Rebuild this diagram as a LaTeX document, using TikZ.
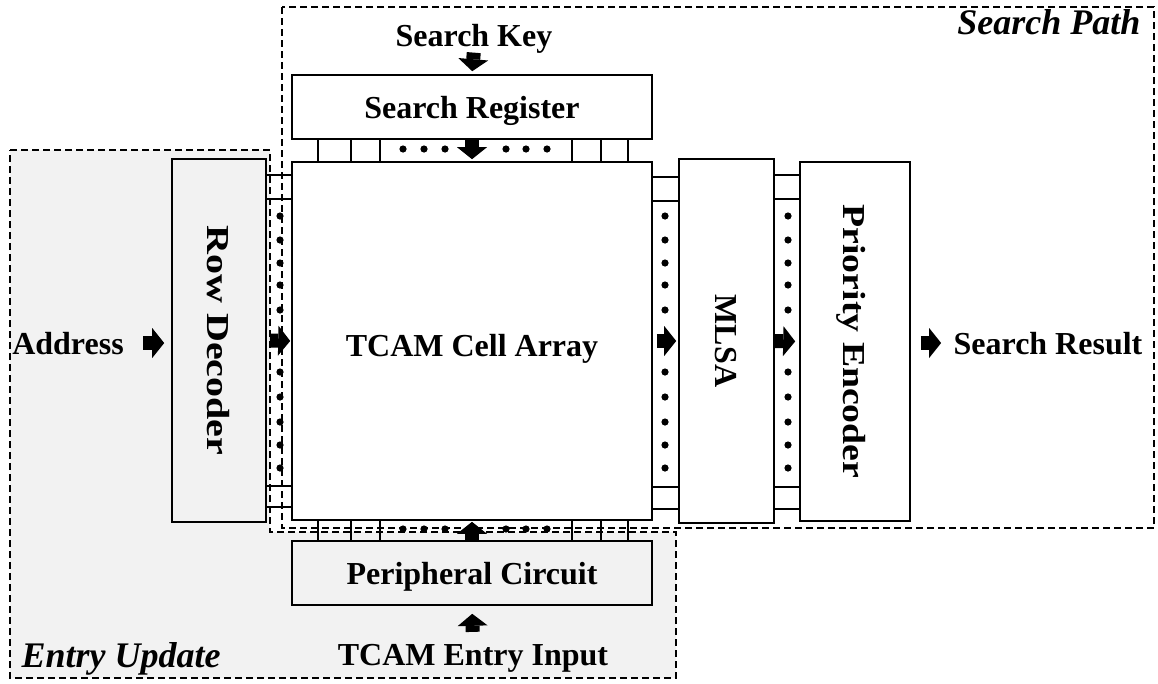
\documentclass[tikz,border=0pt]{standalone}
\usepackage{fontspec}
\setmainfont{Liberation Serif}
\usetikzlibrary{arrows.meta}
\definecolor{fillgray}{HTML}{F2F2F2}
\tikzset{
  blk/.style={draw, line width=1.6pt, fill=white, inner sep=0pt},
  grayblk/.style={blk, fill=fillgray},
  txt/.style={font=\fontsize{32}{38}\selectfont\bfseries, text depth=0pt},
  itxt/.style={font=\fontsize{36}{42}\selectfont\bfseries\itshape, text depth=0pt},
  region/.style={line width=1.3pt, dash pattern=on 7pt off 4pt},
  busline/.style={line width=1.3pt},
  fatarrow/.style={line width=14pt, -{Triangle[length=12pt,width=30pt,line width=0pt 0]}},
}
\begin{document}
\begin{tikzpicture}[x=1pt,y=-1pt]
\useasboundingbox (0,0) rectangle (1158,683);
% regions
\draw[region, fill=fillgray] (10,150) -- (270,150) -- (270,532) -- (676,532)
      -- (676,678) -- (10,678) -- cycle;
\draw[region] (282,7) rectangle (1154,528);
\node[itxt, anchor=west] (upd) at (18,655) {Entry Update};
\node[itxt, anchor=east] (path) at (1144,22) {Search Path};
% blocks
\node[grayblk, minimum width=94pt, minimum height=363pt] (dec) at (219,340.5) {};
\node[txt, rotate=-90, xscale=1.25] (dectxt) at (dec) {Row Decoder};
\node[blk, minimum width=360pt, minimum height=358pt] (cell) at (472,341) {};
\node[txt] (celltxt) at (472,345) {TCAM Cell Array};
\node[blk, txt, minimum width=360pt, minimum height=64pt] (reg) at (472,107) {Search Register};
\node[grayblk, txt, minimum width=360pt, minimum height=64pt] (per) at (472,573) {Peripheral Circuit};
\node[blk, minimum width=95pt, minimum height=364pt] (mlsa) at (726.5,341) {};
\node[txt, rotate=-90] (mlsatxt) at (mlsa) {MLSA};
\node[blk, minimum width=110pt, minimum height=359pt] (pe) at (855,341.5) {};
\node[txt, rotate=-90, xscale=1.18] (petxt) at (pe) {Priority Encoder};
% outer texts
\node[txt] (key) at (474,35) {Search Key};
\node[txt] (addr) at (68,343) {Address};
\node[txt] (res) at (1048,343) {Search Result};
\node[txt] (inp) at (473,655) {TCAM Entry Input};
% buses
\foreach \x in {318,351,380,572,601,628} {
  \draw[busline] (\x,0 |- reg.south) -- (\x,0 |- cell.north);
  \draw[busline] (\x,0 |- cell.south) -- (\x,0 |- per.north);
}
\foreach \y in {175,199,486,507}
  \draw[busline] (dec.east |- 0,\y) -- (cell.west |- 0,\y);
\foreach \y in {177,201,487,509}
  \draw[busline] (cell.east |- 0,\y) -- (mlsa.west |- 0,\y);
\foreach \y in {175,199,487,509}
  \draw[busline] (mlsa.east |- 0,\y) -- (pe.west |- 0,\y);
\foreach \x in {403,424,445,506,526,547} {
  \fill (\x,149) circle[radius=3.6pt];
  \fill (\x,529) circle[radius=3.6pt];
}
\foreach \y in {216,240,263,285,310,372,397,422,445,468} {
  \fill (280,\y) circle[radius=3.6pt];
  \fill (665,\y) circle[radius=3.6pt];
  \fill (788,\y) circle[radius=3.6pt];
}
% arrows
\draw[fatarrow, shorten <=3pt, shorten >=3pt] (key.south) -- (reg.north);
\draw[fatarrow, shorten >=2pt] (reg.south) -- (cell.north);
\draw[fatarrow, shorten >=1pt] (per.north) -- (cell.south);
\draw[fatarrow, shorten <=9pt, shorten >=8pt] (inp.north) -- (per.south);
\draw[fatarrow, shorten <=16pt, shorten >=7pt] (addr.east) -- (dec.west |- addr.east);
\draw[fatarrow, shorten <=3pt, shorten >=1pt] (dec.east) -- (cell.west);
\draw[fatarrow, shorten <=4pt, shorten >=2pt] (cell.east) -- (mlsa.west);
\draw[fatarrow, shorten >=4pt] (mlsa.east) -- (pe.west);
\draw[fatarrow, shorten <=10pt, shorten >=9pt] (pe.east |- res.west) -- (res.west);
\end{tikzpicture}
\end{document}
